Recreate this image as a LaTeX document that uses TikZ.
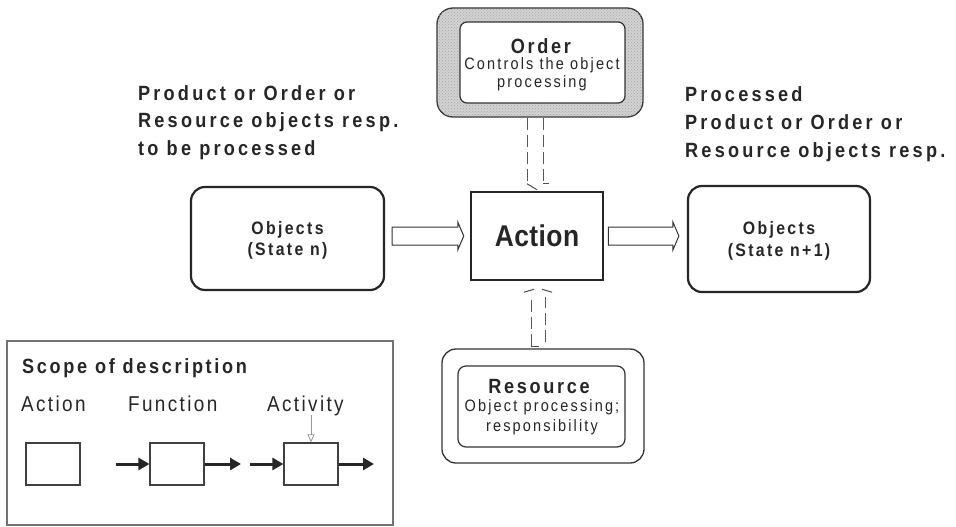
\documentclass[tikz,border=0pt]{standalone}
\usepackage{fontspec}
\setmainfont{Liberation Sans}
\newfontfamily\cndA[FakeStretch=0.88,LetterSpace=13]{Liberation Sans}
\newfontfamily\cndB[FakeStretch=0.88,LetterSpace=1.5]{Liberation Sans}
\newfontfamily\cndC[FakeStretch=0.88,LetterSpace=11]{Liberation Sans}
\newfontfamily\cndD[FakeStretch=0.88,LetterSpace=15.5]{Liberation Sans}
\usetikzlibrary{arrows.meta,calc,patterns}
\tikzset{
  bigtxt/.style={font=\cndD\bfseries\fontsize{20.6}{27.8}\selectfont, align=left, inner sep=0, anchor=north west, text=black!85},
  objbox/.style={draw=black!85, line width=2.2pt, rounded corners=14pt, align=center, inner sep=0, text depth=0pt,
    font=\cndA\bfseries\fontsize{18}{21.5}\selectfont, text=black!85},
  actbox/.style={draw=black!85, line width=2.5pt, inner sep=0, font=\cndB\bfseries\fontsize{30}{32}\selectfont, text=black!85},
  framebox/.style={draw=black!80, line width=1.3pt, inner sep=0},
  innerbox/.style={draw=black!80, line width=1.2pt, fill=white, inner sep=0},
  titleline/.style={font=\cndA\bfseries\fontsize{20.6}{22}\selectfont, inner sep=0, anchor=base, text=black!85},
  subline/.style={font=\cndA\fontsize{16.5}{18}\selectfont, inner sep=0, anchor=base, text=black!85},
  hollow/.style={draw=black!80, line width=1pt, fill=white, line join=miter},
  dashconn/.style={draw=black!65, line width=1pt, dash pattern=on 12pt off 5pt},
  headmark/.style={draw=black!70, line width=1pt},
  scopebox/.style={draw=black!55, line width=1.1pt, inner sep=0},
  sbox/.style={draw=black!75, line width=1.2pt, minimum width=54, minimum height=42, inner sep=0},
  smallarr/.style={draw=black!85, line width=3pt, -{Triangle[length=11pt,width=12pt]}},
  grayarr/.style={draw=black!40, line width=0.8pt, -{Triangle[open,length=8pt,width=7pt]}},
  scopetxt/.style={font=\cndC\fontsize{21.5}{24}\selectfont, inner sep=0, anchor=base west, text=black!85}
}
\begin{document}
\begin{tikzpicture}[x=1pt,y=-1pt]
\useasboundingbox[fill=white] (0,0) rectangle (956,527);

% texts above
\node[bigtxt] (intext) at (138,85) {Product or Order or\\Resource objects resp.\\to be processed};
\node[bigtxt] (outtext) at (685,86.5) {Processed\\Product or Order or\\Resource objects resp.};

% main boxes
\node[objbox, minimum width=193, minimum height=103] (objL) at (287.5,238.5) {Objects\\(State n)};
\node[actbox, minimum width=132, minimum height=88] (act) at (537,236) {Action};
\node[objbox, minimum width=182, minimum height=106] (objR) at (779,239) {Objects\\(State n+1)};

% order
\node[framebox, rounded corners=16pt, fill=gray!35, minimum width=206, minimum height=109,
      postaction={pattern=crosshatch dots, pattern color=black!35}] (ordout) at (540,62.5) {};
\node[innerbox, rounded corners=7pt, minimum width=165, minimum height=81] (ord) at (542.5,62.5) {};
\node[titleline] (ordl1) at (541,53.3) {Order};
\node[subline] (ordl2) at (542,70) {Controls the object};
\node[subline] (ordl3) at (542,87.3) {processing};

% resource
\node[framebox, rounded corners=14pt, fill=white, minimum width=202, minimum height=114] (resout) at (543,406) {};
\node[innerbox, rounded corners=8pt, minimum width=167, minimum height=81] (res) at (541.5,406.5) {};
\node[titleline] (resl1) at (539,393) {Resource};
\node[subline] (resl2) at (542,411.7) {Object processing;};
\node[subline] (resl3) at (542,431) {responsibility};

% hollow arrows
\draw[hollow] ($(objL.east |- act.west)+(7,-9)$) -- ($(act.west)+(-12,-9)$) -- ($(act.west)+(-12,-14)$)
  -- ($(act.west)+(-6,0)$) -- ($(act.west)+(-12,14)$) -- ($(act.west)+(-12,9)$)
  -- ($(objL.east |- act.west)+(7,9)$) -- cycle;
\draw[hollow] ($(act.east)+(4,-9)$) -- ($(objR.west |- act.east)+(-14,-9)$) -- ($(objR.west |- act.east)+(-14,-14)$)
  -- ($(objR.west |- act.east)+(-8,0)$) -- ($(objR.west |- act.east)+(-14,14)$) -- ($(objR.west |- act.east)+(-14,9)$)
  -- ($(act.east)+(4,9)$) -- cycle;

% dashed connector order -> action
\draw[dashconn] ($(act.north |- ordout.south)+(-10,0)$) -- ($(act.north)+(-10,-7)$);
\draw[dashconn] ($(act.north |- ordout.south)+(6,0)$) -- ($(act.north)+(6,-7)$);
\draw[headmark] ($(act.north)+(-10,-7)$) -- ($(act.north)+(0,-1)$);
\draw[headmark] ($(act.north)+(6,-7)$) -- ($(act.north)+(12,-7)$);

% dashed connector resource -> action
\draw[dashconn] ($(resout.north -| act.south)+(-6,-2)$) -- ($(act.south)+(-6,16)$);
\draw[dashconn] ($(resout.north -| act.south)+(8,-6)$) -- ($(act.south)+(8,16)$);
\draw[headmark] ($(resout.north -| act.south)+(-6,-2)$) -- ++(8,0);
\draw[headmark] ($(act.south)+(-13,11)$) -- ($(act.south)+(-3,8)$);
\draw[headmark] ($(act.south)+(5,8)$) -- ($(act.south)+(15,11)$);

% scope of description
\node[scopebox, minimum width=386, minimum height=184] (scope) at (200,433) {};
\node[scopetxt, font=\cndA\bfseries\fontsize{20.6}{24}\selectfont] (scopet) at (22,373.3) {Scope of description};
\node[scopetxt] (lact) at (21,411.5) {Action};
\node[scopetxt] (lfun) at (128,411.5) {Function};
\node[scopetxt] (lacv) at (267,411.5) {Activity};
\node[sbox] (b1) at (53,464) {};
\node[sbox] (b2) at (177,464) {};
\node[sbox] (b3) at (311,464) {};
\coordinate (f2in) at (116,464);
\coordinate (f2out) at (241,464);
\coordinate (a3in) at (250,464);
\coordinate (a3out) at (374,464);
\coordinate (a3top) at (311,415);
\draw[smallarr] (f2in) -- (b2.west);
\draw[smallarr] (b2.east) -- (f2out);
\draw[smallarr] (a3in) -- (b3.west);
\draw[smallarr] (b3.east) -- (a3out);
\draw[grayarr] (a3top) -- (b3.north);
\end{tikzpicture}
\end{document}
